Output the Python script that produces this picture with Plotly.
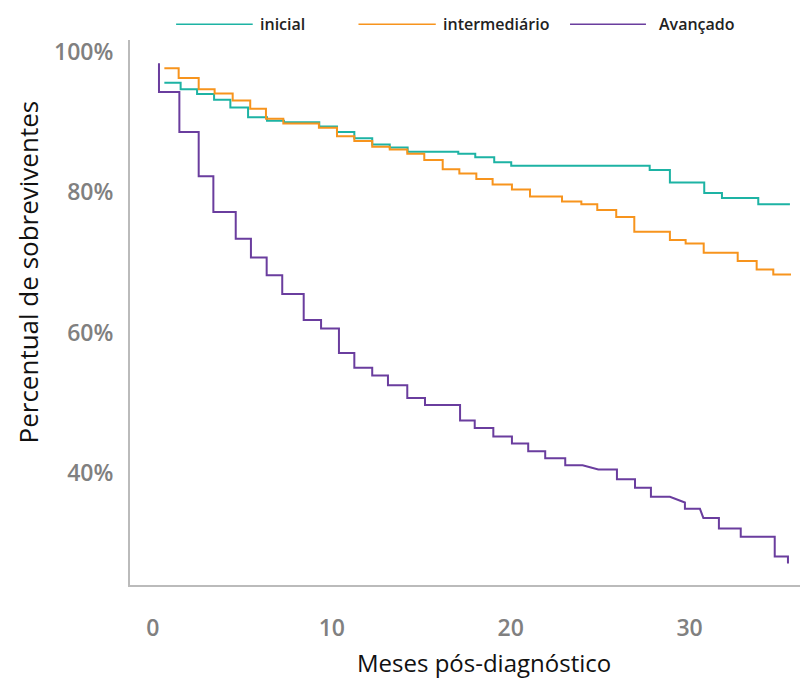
import plotly.graph_objects as go

# ---- data ----
series_names = ["inicial", "intermediário", "Avançado"]
x_title = "Meses pós-diagnóstico"
y_title = "Percentual de sobreviventes"

# inicial: step start (months) and survival (%)
inicial_x = [0.64, 1.55, 2.47, 3.42, 4.33, 5.32, 6.38, 7.33, 9.30, 10.29, 11.26, 12.26,
             13.24, 14.24, 17.07, 18.02, 19.08, 20.03, 27.77, 28.90, 30.82, 31.81, 33.84, 35.61]
inicial_y = [95.6, 94.7, 94.0, 93.2, 92.1, 90.7, 90.2, 90.0, 89.4, 88.6, 87.7, 86.8,
             86.4, 85.8, 85.5, 85.0, 84.3, 83.8, 83.2, 81.4, 79.9, 79.2, 78.3, 78.3]

# intermediário
inter_x = [0.64, 1.44, 2.56, 3.45, 4.46, 5.44, 6.32, 7.29, 9.28, 10.29, 11.26, 12.26,
           13.24, 14.22, 15.17, 16.20, 17.13, 18.08, 18.99, 20.07, 21.08, 22.87, 23.95,
           24.84, 25.90, 26.91, 28.90, 29.78, 30.79, 32.69, 33.75, 34.68, 35.67]
inter_y = [97.7, 96.3, 94.7, 94.1, 93.1, 91.9, 90.5, 89.8, 89.2, 88.0, 87.3, 86.5,
           86.1, 85.5, 84.6, 83.3, 82.7, 81.9, 81.1, 80.4, 79.4, 78.7, 78.3,
           77.5, 76.5, 74.4, 73.2, 72.7, 71.4, 70.2, 69.0, 68.3, 68.3]

# Avançado: polyline vertices (months, %)
avanc_x = [0.34, 0.34, 1.48, 1.48, 2.56, 2.56, 3.38, 3.38, 4.63, 4.63, 5.48, 5.48,
           6.36, 6.36, 7.23, 7.23, 8.43, 8.43, 9.40, 9.40, 10.40, 10.40, 11.26, 11.26,
           12.26, 12.26, 13.14, 13.14, 14.22, 14.22, 15.21, 15.21, 17.17, 17.17, 17.99,
           17.99, 19.03, 19.03, 20.07, 20.07, 20.98, 20.98, 21.93, 21.93, 23.05, 23.05,
           24.02, 24.90, 25.94, 25.94, 26.95, 26.95, 27.84, 27.84, 28.90, 29.74, 29.74,
           30.58, 30.77, 31.64, 31.64, 32.86, 32.86, 34.76, 34.76, 35.50, 35.50]
avanc_y = [98.4, 94.3, 94.3, 88.6, 88.6, 82.3, 82.3, 77.2, 77.2, 73.4, 73.4, 70.7,
           70.7, 68.2, 68.2, 65.5, 65.5, 61.8, 61.8, 60.6, 60.6, 57.1, 57.1, 55.0,
           55.0, 53.9, 53.9, 52.5, 52.5, 50.7, 50.7, 49.7, 49.7, 47.5, 47.5,
           46.4, 46.4, 45.2, 45.2, 44.2, 44.2, 43.1, 43.1, 42.1, 42.1, 41.1,
           41.1, 40.5, 40.5, 39.1, 39.1, 37.9, 37.9, 36.6, 36.6, 35.8, 34.9,
           34.9, 33.6, 33.6, 32.1, 32.1, 30.9, 30.9, 28.1, 28.1, 27.1]

x_tickvals = [0, 10, 20, 30]
y_tickvals = [40, 60, 80, 100]
y_ticktext = ["40%", "60%", "80%", "100%"]

colors = ["#1db3a4", "#f7941d", "#6a3d9e"]

FONT = "Open Sans"

fig = go.Figure()
fig.add_trace(go.Scatter(x=inicial_x, y=inicial_y, mode="lines", name=series_names[0],
                         line=dict(color=colors[0], width=2, shape="hv"), showlegend=False))
fig.add_trace(go.Scatter(x=inter_x, y=inter_y, mode="lines", name=series_names[1],
                         line=dict(color=colors[1], width=2, shape="hv"), showlegend=False))
fig.add_trace(go.Scatter(x=avanc_x, y=avanc_y, mode="lines", name=series_names[2],
                         line=dict(color=colors[2], width=2), showlegend=False))

# custom legend (line swatch + label) above the plot
legend_pos = [(0.068, 0.181, 0.189), (0.337, 0.451, 0.459), (0.649, 0.761, 0.777)]
for (x0, x1, xt), name, c in zip(legend_pos, series_names, colors):
    fig.add_shape(type="line", xref="paper", yref="paper", x0=x0, x1=x1, y0=1.029, y1=1.029,
                  line=dict(color=c, width=1.5))
    fig.add_annotation(xref="paper", yref="paper", x=xt, y=1.029, text=name, showarrow=False,
                       xanchor="left", yanchor="middle",
                       font=dict(family=FONT, size=16, color="#222222", weight=600))

# axis titles (placed as in the reference, slightly off-centre)
fig.add_annotation(xref="paper", yref="paper", x=0.522, y=-0.143, text=x_title,
                   showarrow=False, xanchor="center", yanchor="middle",
                   font=dict(family=FONT, size=24, color="#111111"))
fig.add_annotation(xref="paper", yref="paper", x=-0.150, y=0.574, text=y_title,
                   showarrow=False, xanchor="center", yanchor="middle", textangle=-90,
                   font=dict(family=FONT, size=26, color="#111111"))

fig.update_layout(
    width=800, height=673,
    margin=dict(l=122, r=0, t=32, b=96),
    paper_bgcolor="white", plot_bgcolor="white",
    font=dict(family=FONT),
    xaxis=dict(range=[-1.28, 36.62], tickvals=x_tickvals, showgrid=False, zeroline=False,
               showline=True, linecolor="#bbbbbb", linewidth=2, ticks="",
               ticklabelstandoff=21,
               tickfont=dict(family=FONT, size=23, color="#808080", weight=600)),
    yaxis=dict(range=[24.04, 101.71], tickvals=y_tickvals, ticktext=y_ticktext,
               showgrid=False, zeroline=False, showline=True, linecolor="#bbbbbb",
               linewidth=2, ticks="", ticklabelstandoff=10,
               tickfont=dict(family=FONT, size=23, color="#808080", weight=600)),
)

fig.write_html("out.html")
